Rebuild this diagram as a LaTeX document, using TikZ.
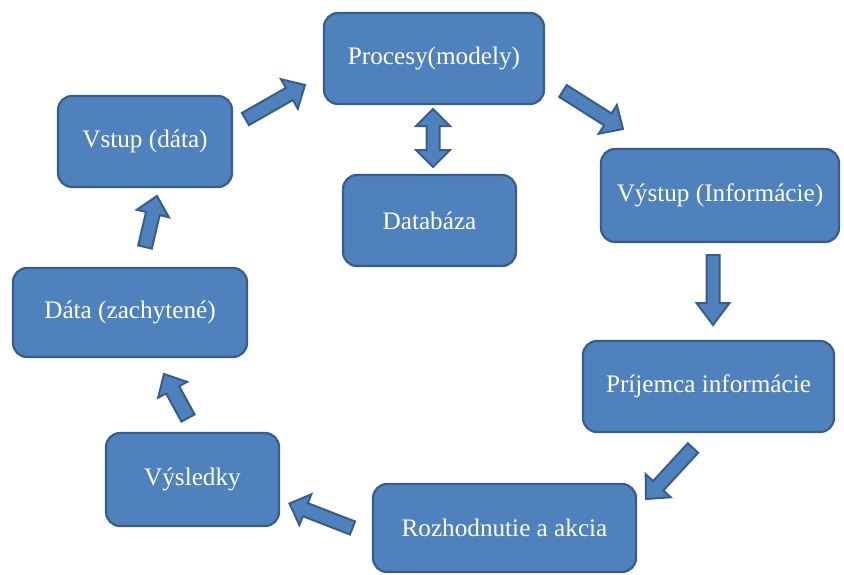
\documentclass[tikz,border=0pt]{standalone}
\usepackage{fontspec}
\setmainfont{Liberation Serif}
\usetikzlibrary{calc}

\definecolor{boxfill}{HTML}{4F81BD}
\definecolor{boxline}{HTML}{385D8A}

\tikzset{
  box/.style={draw=boxline, fill=boxfill, line width=2.2pt, rounded corners=14pt,
    text=white, font=\fontsize{25.2}{29}\selectfont, inner sep=0pt},
  arrowbody/.style={draw=boxline, fill=boxfill, line width=2pt, line join=miter}
}

% block arrow: #1 tail, #2 tip, #3 shaft half width, #4 head half width, #5 head length
\newcommand{\fatarrow}[5]{%
  \coordinate (fa-h) at ($(#2)!#5!(#1)$);
  \draw[arrowbody] ($(#1)!#3!90:(#2)$) -- ($(fa-h)!#3!90:(#2)$) -- ($(fa-h)!#4!90:(#2)$)
    -- (#2) -- ($(fa-h)!#4!-90:(#2)$) -- ($(fa-h)!#3!-90:(#2)$) -- ($(#1)!#3!-90:(#2)$) -- cycle;}

% two-headed block arrow between #1 and #2
\newcommand{\fatdarrow}[5]{%
  \coordinate (fd-a) at ($(#1)!#5!(#2)$);
  \coordinate (fd-b) at ($(#2)!#5!(#1)$);
  \draw[arrowbody] (#1) -- ($(fd-a)!#4!90:(#2)$) -- ($(fd-a)!#3!90:(#2)$) -- ($(fd-b)!#3!90:(#2)$)
    -- ($(fd-b)!#4!90:(#2)$) -- (#2) -- ($(fd-b)!#4!-90:(#2)$) -- ($(fd-b)!#3!-90:(#2)$)
    -- ($(fd-a)!#3!-90:(#2)$) -- ($(fd-a)!#4!-90:(#2)$) -- cycle;}

\begin{document}
\begin{tikzpicture}[x=1pt, y=-1pt]
\useasboundingbox (0,0) rectangle (844,574);

% process steps
\node[box, minimum width=220pt, minimum height=91pt] (proc) at (434,58.5) {Procesy(modely)};
\node[box, minimum width=174pt, minimum height=91pt] (vstup) at (145,141.5) {Vstup (dáta)};
\node[box, minimum width=173pt, minimum height=91pt] (db) at (429.5,220.5) {Databáza};
\node[box, minimum width=238pt, minimum height=93pt] (vystup) at (720,195.5) {Výstup (Informácie)};
\node[box, minimum width=251pt, minimum height=91pt] (prij) at (708.5,386.5) {Príjemca informácie};
\node[box, minimum width=263pt, minimum height=88pt] (rozh) at (504.5,528) {Rozhodnutie a akcia};
\node[box, minimum width=173pt, minimum height=93pt] (vysl) at (192.5,479.5) {Výsledky};
\node[box, minimum width=234pt, minimum height=89pt] (data) at (130,312.5) {Dáta (zachytené)};

% arrow ends
\coordinate (a1s) at (245.5,119);  \coordinate (a1e) at (305,85);
\coordinate (a2s) at (563,91);     \coordinate (a2e) at (623,129);
\coordinate (a3s) at (433,109);    \coordinate (a3e) at (433,167);
\coordinate (a4s) at (713,255);    \coordinate (a4e) at (713,325);
\coordinate (a5s) at (693,448);    \coordinate (a5e) at (646,499);
\coordinate (a6s) at (352.5,528);  \coordinate (a6e) at (289.5,503.5);
\coordinate (a7s) at (188,418);    \coordinate (a7e) at (164,374);
\coordinate (a8s) at (145,247);    \coordinate (a8e) at (157,196);

\fatarrow{a1s}{a1e}{7pt}{17pt}{18pt}
\fatarrow{a2s}{a2e}{7pt}{17pt}{18pt}
\fatdarrow{a3s}{a3e}{6.5pt}{17pt}{17pt}
\fatarrow{a4s}{a4e}{6.5pt}{16.5pt}{22pt}
\fatarrow{a5s}{a5e}{7pt}{17pt}{18pt}
\fatarrow{a6s}{a6e}{7pt}{16.5pt}{17pt}
\fatarrow{a7s}{a7e}{7.5pt}{16.5pt}{18pt}
\fatarrow{a8s}{a8e}{7pt}{16.5pt}{18pt}
\end{tikzpicture}
\end{document}
